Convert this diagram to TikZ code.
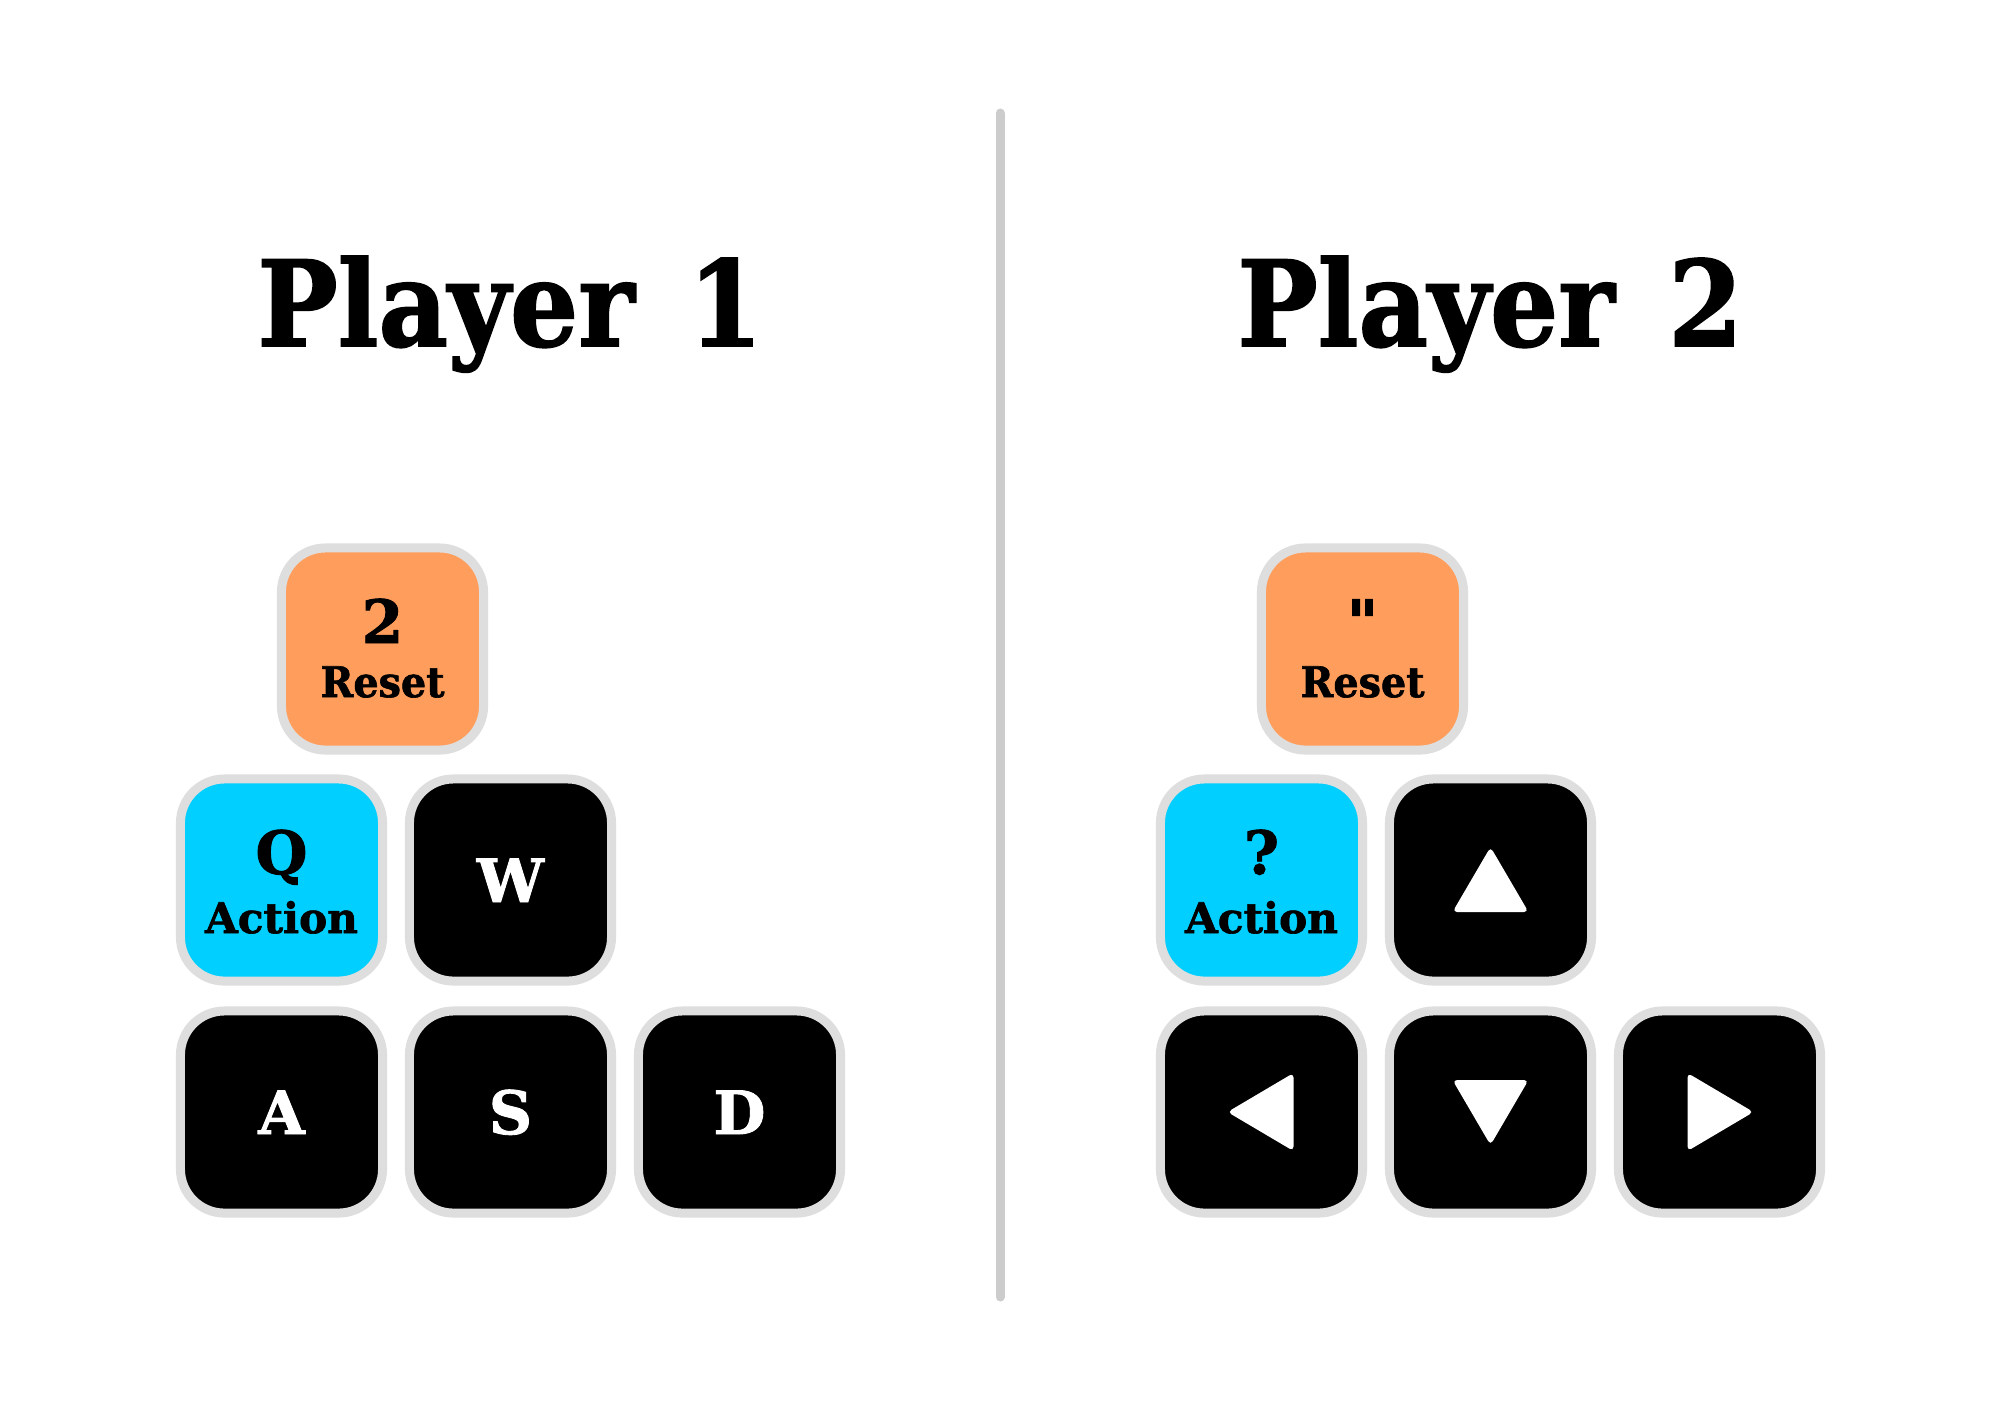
\documentclass[tikz,border=0pt]{standalone}
\usepackage{fontspec}
\usepackage{graphicx}
\setmainfont{DejaVu Serif}[Ligatures=TeXOff, BoldFeatures={FakeBold=1.5}]
\definecolor{keyborder}{HTML}{DEDEDE}
\definecolor{divider}{HTML}{CCCCCC}
\definecolor{keyorange}{HTML}{FF9E5C}
\definecolor{keycyan}{HTML}{00CFFF}
\tikzset{
  key/.style={draw=keyborder, line width=0.09cm, rounded corners=0.44cm,
    minimum width=2.02cm, minimum height=2.02cm, inner sep=0pt},
  orangekey/.style={key, fill=keyorange},
  cyankey/.style={key, fill=keycyan},
  blackkey/.style={key, fill=black},
  biglbl/.style={font=\fontsize{17pt}{20pt}\selectfont\bfseries, inner sep=0pt, anchor=base},
  smalllbl/.style={font=\fontsize{12pt}{14pt}\selectfont\bfseries, inner sep=0pt, anchor=base},
  titlelbl/.style={inner sep=0pt, anchor=base},
  tri/.style={fill=white, rounded corners=0.045cm}
}
\begin{document}
\begin{tikzpicture}[x=0.01cm, y=-0.01cm]
\useasboundingbox[fill=white] (0,0) rectangle (2000,1414);

% divider
\coordinate (divtop) at (1000,113);
\coordinate (divbot) at (1000,1297);
\draw[divider, line width=0.09cm, line cap=round] (divtop) -- (divbot);

% titles
\node[titlelbl] (title1) at (510,346) {\resizebox{5.05cm}{0.9cm}{\bfseries Player\hspace{0.5em}1}};
\node[titlelbl] (title2) at (1490,346) {\resizebox{5.05cm}{0.9cm}{\bfseries Player\hspace{0.5em}2}};

% ---------- Player 1 ----------
\node[orangekey] (r1) at (382.5,649) {};
\node[cyankey] (q1) at (281.5,880) {};
\node[blackkey] (w1) at (510.5,880) {};
\node[blackkey] (a1) at (281.5,1112) {};
\node[blackkey] (s1) at (510.5,1112) {};
\node[blackkey] (d1) at (739.5,1112) {};

\node[biglbl] (r1t) at ([yshift=0.06cm]r1.center) {2};
\node[smalllbl] (r1b) at ([yshift=-0.48cm]r1.center) {\scalebox{0.94}[1]{Reset}};
\node[biglbl] (q1t) at ([yshift=0.06cm]q1.center) {Q};
\node[smalllbl] (q1b) at ([yshift=-0.53cm]q1.center) {Action};
\node[biglbl, white] (w1t) at ([yshift=-0.22cm]w1.center) {W};
\node[biglbl, white] (a1t) at ([yshift=-0.22cm]a1.center) {A};
\node[biglbl, white] (s1t) at ([yshift=-0.22cm]s1.center) {S};
\node[biglbl, white] (d1t) at ([yshift=-0.22cm]d1.center) {D};

% ---------- Player 2 ----------
\node[orangekey] (r2) at (1362.5,649) {};
\node[cyankey] (q2) at (1261.5,880) {};
\node[blackkey] (up2) at (1490.5,880) {};
\node[blackkey] (lf2) at (1261.5,1112) {};
\node[blackkey] (dn2) at (1490.5,1112) {};
\node[blackkey] (rt2) at (1719.5,1112) {};

\node[biglbl] (r2t) at ([yshift=0.06cm]r2.center) {"};
\node[smalllbl] (r2b) at ([yshift=-0.48cm]r2.center) {\scalebox{0.94}[1]{Reset}};
\node[biglbl] (q2t) at ([yshift=0.06cm]q2.center) {?};
\node[smalllbl] (q2b) at ([yshift=-0.53cm]q2.center) {Action};

\fill[tri] ([shift={(0,-33)}]up2.center) -- ([shift={(38,32)}]up2.center) -- ([shift={(-38,32)}]up2.center) -- cycle;
\fill[tri] ([shift={(0,33)}]dn2.center) -- ([shift={(38,-32)}]dn2.center) -- ([shift={(-38,-32)}]dn2.center) -- cycle;
\fill[tri] ([shift={(-34,0)}]lf2.center) -- ([shift={(32,-39)}]lf2.center) -- ([shift={(32,39)}]lf2.center) -- cycle;
\fill[tri] ([shift={(34,0)}]rt2.center) -- ([shift={(-32,-39)}]rt2.center) -- ([shift={(-32,39)}]rt2.center) -- cycle;
\end{tikzpicture}
\end{document}
